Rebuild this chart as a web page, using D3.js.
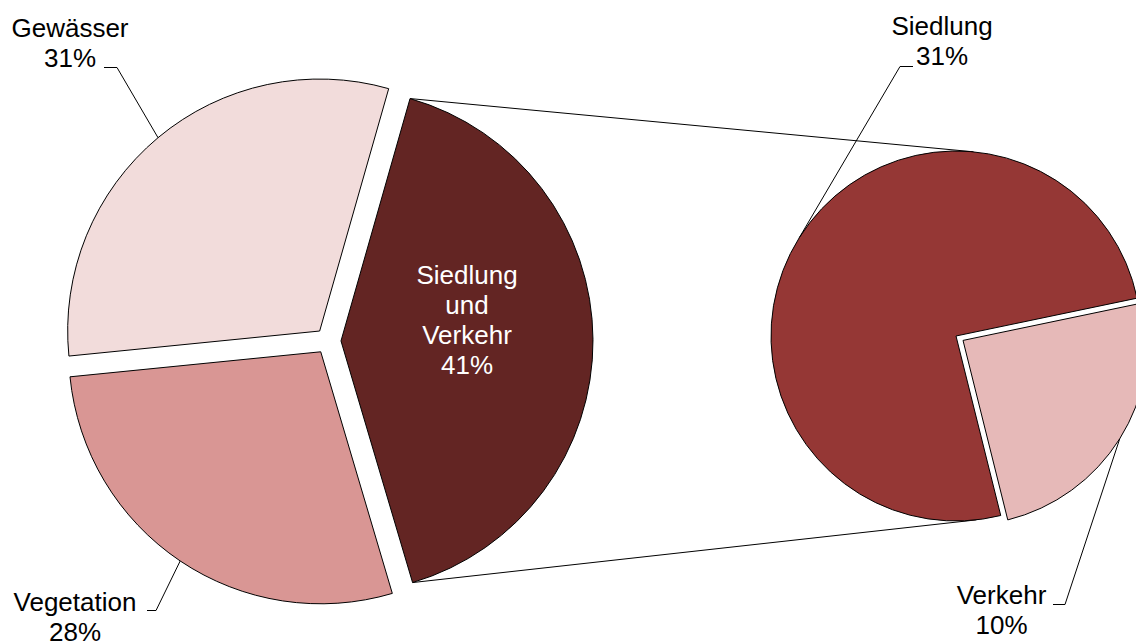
<!DOCTYPE html>
<html>
<head>
<meta charset="utf-8">
<script src="https://cdn.jsdelivr.net/npm/d3@7"></script>
<style>
  body { margin: 0; background: #fff; }
  svg { display: block; font-family: 'Liberation Sans', Arial, sans-serif; }
</style>
</head>
<body>
<div id="chart"></div>
<script>
// main pie
const mainNames = ['Siedlung und Verkehr', 'Vegetation', 'Gewässer'];
const mainValues = [41, 28, 31];
const mainColors = ['#632523', '#d99694', '#f2dcdb'];
// second pie (breakdown of "Siedlung und Verkehr")
const subNames = ['Verkehr', 'Siedlung'];
const subValues = [10, 31];
const subColors = ['#e6b9b8', '#953735'];

const width = 1136;
const height = 644;

const svg = d3.select('#chart')
  .append('svg')
  .attr('width', width)
  .attr('height', height);

const rad = deg => deg * Math.PI / 180;

// layout
const main = { cx: 328, cy: 341, r: 252, explode: 13, start: 15.9 };
const sub = { cx: 956, cy: 336, r: 185, explode: 8.3, start: 78.2 };

const mainPie = d3.pie().sort(null).value(d => d.value)
  .startAngle(rad(main.start)).endAngle(rad(main.start) + 2 * Math.PI);
const subPie = d3.pie().sort(null).value(d => d.value)
  .startAngle(rad(sub.start)).endAngle(rad(sub.start) + 2 * Math.PI);

const mainArcs = mainPie(mainNames.map((n, i) => ({ name: n, value: mainValues[i], color: mainColors[i] })));
const subArcs = subPie(subNames.map((n, i) => ({ name: n, value: subValues[i], color: subColors[i] })));

// offset of an exploded slice along its bisector
function offset(a, dist) {
  const m = (a.startAngle + a.endAngle) / 2;
  return [Math.sin(m) * dist, -Math.cos(m) * dist];
}
function polar(cx, cy, r, ang) {
  return [cx + Math.sin(ang) * r, cy - Math.cos(ang) * r];
}

// connector lines: from the exploded slice corners, tangent to second pie
const big = mainArcs[0];
const [ox, oy] = offset(big, main.explode);
const pTop = polar(main.cx + ox, main.cy + oy, main.r, big.startAngle);
const pBot = polar(main.cx + ox, main.cy + oy, main.r, big.endAngle);

function tangent(p, sign) {
  const vx = sub.cx - p[0], vy = sub.cy - p[1];
  const D = Math.hypot(vx, vy);
  const phi = Math.atan2(vy, vx);
  const a = phi + sign * Math.asin(sub.r / D);
  const L = Math.sqrt(D * D - sub.r * sub.r);
  return [p[0] + Math.cos(a) * L, p[1] + Math.sin(a) * L];
}

svg.append('line')
  .attr('x1', pTop[0]).attr('y1', pTop[1])
  .attr('x2', tangent(pTop, -1)[0]).attr('y2', tangent(pTop, -1)[1])
  .attr('stroke', '#000').attr('stroke-width', 1);
svg.append('line')
  .attr('x1', pBot[0]).attr('y1', pBot[1])
  .attr('x2', tangent(pBot, 1)[0]).attr('y2', tangent(pBot, 1)[1])
  .attr('stroke', '#000').attr('stroke-width', 1);

// slices
const mainArc = d3.arc().innerRadius(0).outerRadius(main.r);
svg.append('g')
  .selectAll('path')
  .data(mainArcs)
  .enter()
  .append('path')
  .attr('d', mainArc)
  .attr('transform', d => {
    const o = offset(d, main.explode);
    return 'translate(' + (main.cx + o[0]) + ',' + (main.cy + o[1]) + ')';
  })
  .attr('fill', d => d.data.color)
  .attr('stroke', '#000')
  .attr('stroke-width', 1);

const subArc = d3.arc().innerRadius(0).outerRadius(sub.r);
svg.append('g')
  .selectAll('path')
  .data(subArcs)
  .enter()
  .append('path')
  .attr('d', subArc)
  .attr('transform', d => {
    const o = d.data.name === 'Verkehr' ? offset(d, sub.explode) : [0, 0];
    return 'translate(' + (sub.cx + o[0]) + ',' + (sub.cy + o[1]) + ')';
  })
  .attr('fill', d => d.data.color)
  .attr('stroke', '#000')
  .attr('stroke-width', 1);

// labels
const fontSize = 26;
const lineH = 30;
function label(lines, x, y, color) {
  const t = svg.append('text')
    .attr('text-anchor', 'middle')
    .attr('font-size', fontSize)
    .attr('fill', color || '#000');
  lines.forEach((s, i) => {
    t.append('tspan').attr('x', x).attr('y', y + i * lineH).text(s);
  });
}

// leader line: stub then to middle of slice arc
function leader(stubA, stubB, arcD, cx, cy, r) {
  const m = (arcD.startAngle + arcD.endAngle) / 2;
  const p = polar(cx, cy, r, m);
  svg.append('path')
    .attr('d', 'M' + stubA[0] + ',' + stubA[1] + 'L' + stubB[0] + ',' + stubB[1] + 'L' + p[0] + ',' + p[1])
    .attr('fill', 'none')
    .attr('stroke', '#000')
    .attr('stroke-width', 1);
}

const pct = v => v + '%';

// Gewässer
const gew = mainArcs[2], gO = offset(gew, main.explode);
label(['Gewässer', pct(mainValues[2])], 70, 37);
leader([104, 67.5], [117, 67.5], gew, main.cx + gO[0], main.cy + gO[1], main.r);

// Vegetation
const veg = mainArcs[1], vO = offset(veg, main.explode);
label(['Vegetation', pct(mainValues[1])], 75, 611);
leader([147, 610.5], [156, 610.5], veg, main.cx + vO[0], main.cy + vO[1], main.r);

// center label
label(['Siedlung', 'und', 'Verkehr', pct(mainValues[0])], 467, 284, '#fff');

// Siedlung
label(['Siedlung', pct(subValues[1])], 942, 35);
leader([913, 66.5], [900, 66.5], subArcs[1], sub.cx, sub.cy, sub.r);

// Verkehr
const vk = subArcs[0], kO = offset(vk, sub.explode);
label(['Verkehr', pct(subValues[0])], 1001.5, 604);
leader([1053, 604.5], [1065, 604.5], vk, sub.cx + kO[0], sub.cy + kO[1], sub.r);
</script>
</body>
</html>
